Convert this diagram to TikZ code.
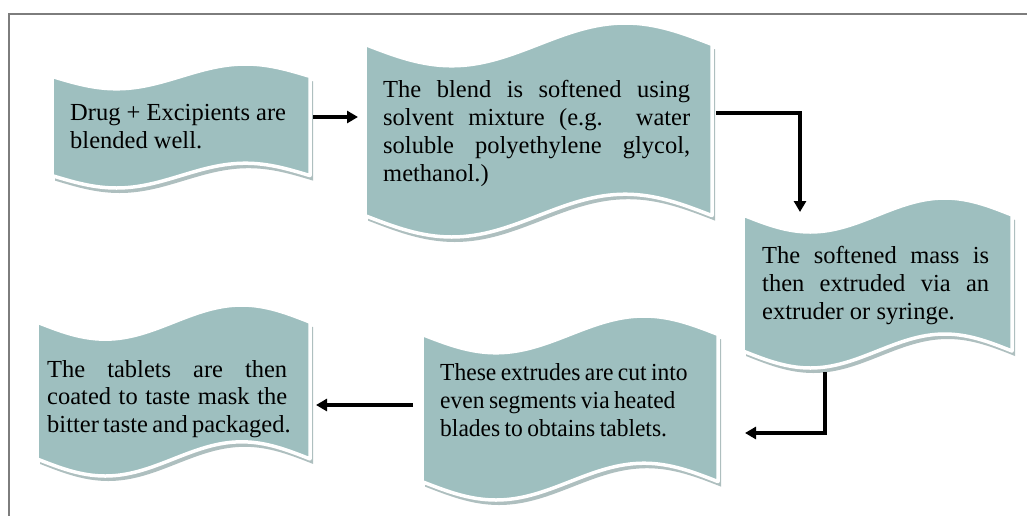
\documentclass[tikz,border=0pt]{standalone}
\usepackage{fontspec}
\setmainfont{Liberation Serif}
\newfontfamily\narrowserif[FakeStretch=0.96,WordSpace=0.75]{Liberation Serif}
\newfontfamily\tightserif[WordSpace=0.7]{Liberation Serif}
\usetikzlibrary{arrows.meta}

\definecolor{tapefill}{RGB}{158,191,191}
\definecolor{tapeshade}{RGB}{140,165,165}
\definecolor{framegray}{RGB}{125,125,125}

% punched-tape outline: #1 = left x, #2 = top (crest) y, #3 = width, #4 = height
\newcommand\tp[4]{%
  (#1,{#2+0.1*#4})
  sin ({#1+0.25*#3},{#2+0.2*#4})
  cos ({#1+0.5*#3},{#2+0.1*#4})
  sin ({#1+0.75*#3},{#2})
  cos ({#1+#3},{#2+0.1*#4})
  -- ({#1+#3},{#2+0.9*#4})
  sin ({#1+0.75*#3},{#2+0.8*#4})
  cos ({#1+0.5*#3},{#2+0.9*#4})
  sin ({#1+0.25*#3},{#2+#4})
  cos ({#1},{#2+0.9*#4})
  -- cycle}

% one wavy box with its shadow and a named area node
\newcommand\tapebox[5]{%
  \fill[tapeshadow] \tp{#2}{#3}{#4}{#5};
  \filldraw[tapeface] \tp{#2}{#3}{#4}{#5};
  \node[boxarea, minimum width=#4pt, minimum height=#5pt] (#1) at ({#2+#4/2},{#3+#5/2}) {};
}

\tikzset{
  tapeshadow/.style={fill=tapeshade, fill opacity=0.7, shift={(3,5)}},
  tapeface/.style={fill=tapefill, draw=white, line width=3.5pt, line join=round},
  boxarea/.style={rectangle, inner sep=0pt, outer sep=0pt},
  txt/.style={anchor=north west, inner sep=0pt, align=left, text=black,
    font=\fontsize{24.5pt}{28pt}\selectfont},
  narrowtxt/.style={txt, font=\fontsize{24.5pt}{28pt}\selectfont\narrowserif},
  tighttxt/.style={txt, font=\fontsize{24.5pt}{27.5pt}\selectfont\tightserif},
  flow/.style={line width=3.5pt, draw=black, line join=miter,
    -{Triangle[length=11pt,width=12pt]}},
}

\begin{document}
\begin{tikzpicture}[x=1pt, y=-1pt]
  \useasboundingbox (0,0) rectangle (1027,515);
  \fill[white] (0,0) rectangle (1027,515);

  % page frame
  \draw[framegray, line width=2pt] (9,516) -- (9,13.5) -- (1028,13.5);

  % process boxes
  \tapebox{b1}{52}{64}{258}{124}
  \tapebox{b2}{365}{23}{347}{214}
  \tapebox{b3}{743}{198}{269}{170}
  \tapebox{b4}{422}{316}{296}{184}
  \tapebox{b5}{37}{305}{273}{171}

  % box texts
  \node[txt] (t1) at (70,102)
    {\rule{0pt}{18pt}Drug + Excipients are\\blended well.};
  \node[txt] (t2) at (383,79)
    {\rule{0pt}{18pt}\makebox[307pt][s]{The blend is softened using}\\
     \makebox[307pt][s]{solvent mixture (e.g. water}\\
     \makebox[307pt][s]{soluble polyethylene glycol,}\\
     methanol.)};
  \node[txt] (t3) at (762,245)
    {\rule{0pt}{18pt}\makebox[227pt][s]{The softened mass is}\\
     \makebox[227pt][s]{then extruded via an}\\
     extruder or syringe.};
  \node[narrowtxt] (t4) at (440,362)
    {\rule{0pt}{18pt}These extrudes are cut into\\
     even segments via heated\\
     blades to obtains tablets.};
  \node[tighttxt] (t5) at (47,359)
    {\rule{0pt}{18pt}\makebox[240pt][s]{The tablets are then}\\
     \makebox[240pt][s]{coated to taste mask the}\\
     bitter taste and packaged.};

  % connectors
  \draw[flow] ([shift={(3,-9)}]b1.east) -- ([shift={(-7,-13)}]b2.west);
  \draw[flow] ([shift={(4,-17)}]b2.east) -| ([shift={(-77.5,14)}]b3.north);
  \draw[flow] ([shift={(-52.5,4)}]b3.south) |- ([shift={(27,25)}]b4.east);
  \draw[flow] ([shift={(-9,-3)}]b4.west) -- ([shift={(6,14.5)}]b5.east);
\end{tikzpicture}
\end{document}
